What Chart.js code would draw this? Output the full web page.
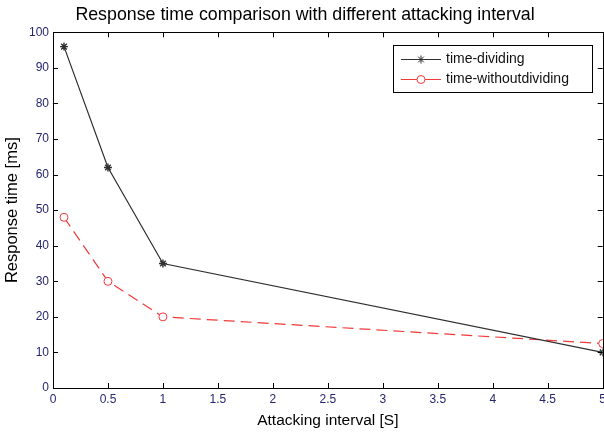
<!DOCTYPE html>
<html>
<head>
<meta charset="utf-8">
<script src="https://cdn.jsdelivr.net/npm/chart.js@4.4.0/dist/chart.umd.min.js"></script>
<style>
  html, body { margin: 0; padding: 0; background: #fff; overflow: hidden; }
  #wrap { width: 604px; height: 435px; overflow: hidden; }
</style>
</head>
<body>
<div id="wrap"><canvas id="chart" width="610" height="435"></canvas></div>
<script>
// values
const intervals = [0.1, 0.5, 1, 5];
const timeDividing = [96, 62, 35, 10];
const timeWithoutDividing = [48, 30, 20, 12.5];
const xTicks = [0, 0.5, 1, 1.5, 2, 2.5, 3, 3.5, 4, 4.5, 5];
const yTicks = [0, 10, 20, 30, 40, 50, 60, 70, 80, 90, 100];

const FONT = "'Liberation Sans', Arial, sans-serif";
const tickColor = "#262670";

function toPoints(xs, ys) {
  return xs.map((x, i) => ({ x: x, y: ys[i] }));
}

// matlab-like box: border on all sides, ticks pointing inward, legend inside
const matlabAxes = {
  id: "matlabAxes",
  afterDraw(chart) {
    const ctx = chart.ctx;
    const area = chart.chartArea;
    const xs = chart.scales.x;
    const ys = chart.scales.y;
    const len = 5;
    ctx.save();
    ctx.strokeStyle = "#000";
    ctx.lineWidth = 1;
    ctx.setLineDash([]);
    ctx.beginPath();
    for (const v of xTicks) {
      const px = Math.round(xs.getPixelForValue(v)) + 0.5;
      ctx.moveTo(px, area.bottom);
      ctx.lineTo(px, area.bottom - len);
      ctx.moveTo(px, area.top);
      ctx.lineTo(px, area.top + len);
    }
    for (const v of yTicks) {
      const py = Math.round(ys.getPixelForValue(v)) + 0.5;
      ctx.moveTo(area.left, py);
      ctx.lineTo(area.left + len, py);
      ctx.moveTo(area.right, py);
      ctx.lineTo(area.right - len, py);
    }
    ctx.stroke();
    ctx.strokeRect(Math.round(area.left) + 0.5, Math.round(area.top) + 0.5,
      Math.round(area.right - area.left), Math.round(area.bottom - area.top));

    // legend
    const bw = 199, bh = 47;
    const bx = Math.round(area.right) - 11 - bw;
    const by = Math.round(area.top) + 13;
    ctx.fillStyle = "#fff";
    ctx.fillRect(bx, by, bw, bh);
    ctx.strokeRect(bx + 0.5, by + 0.5, bw, bh);
    ctx.font = "14px " + FONT;
    ctx.textBaseline = "middle";
    chart.data.datasets.forEach((ds, i) => {
      const cy = by + 14 + i * 20 + 0.5;
      ctx.strokeStyle = ds.borderColor;
      ctx.lineWidth = 1;
      ctx.beginPath();
      ctx.moveTo(bx + 8, cy);
      ctx.lineTo(bx + 48, cy);
      ctx.stroke();
      ctx.fillStyle = ds.backgroundColor;
      Chart.helpers.drawPoint(ctx, {
        pointStyle: ds.pointStyle,
        radius: ds.pointRadius,
        borderWidth: 1,
        rotation: 0
      }, bx + 28, cy);
      ctx.fillStyle = "#111";
      ctx.fillText(ds.label, bx + 53, cy);
    });
    ctx.restore();
  }
};

new Chart(document.getElementById("chart"), {
  type: "line",
  data: {
    datasets: [
      {
        label: "time-dividing",
        data: toPoints(intervals, timeDividing),
        borderColor: "#303030",
        backgroundColor: "#303030",
        borderWidth: 1.2,
        pointStyle: "star",
        pointRadius: 4,
        pointBorderWidth: 1.4,
        tension: 0
      },
      {
        label: "time-withoutdividing",
        data: toPoints(intervals, timeWithoutDividing),
        borderColor: "#f03a3a",
        backgroundColor: "#ffffff",
        borderWidth: 1.2,
        borderDash: [11, 6],
        pointStyle: "circle",
        pointRadius: 4,
        pointBorderWidth: 1,
        tension: 0
      }
    ]
  },
  options: {
    responsive: false,
    animation: false,
    layout: { padding: { left: 0, right: 0, top: 0, bottom: 0 } },
    plugins: {
      legend: { display: false },
      tooltip: { enabled: false },
      title: {
        display: true,
        text: "Response time comparison with different attacking interval",
        color: "#000",
        font: { family: FONT, size: 17.8, weight: "normal" },
        padding: { top: 4, bottom: 7 }
      }
    },
    scales: {
      x: {
        type: "linear",
        min: 0,
        max: 5,
        afterBuildTicks: s => { s.ticks = xTicks.map(v => ({ value: v })); },
        afterFit: s => { s.height = 47; },
        grid: { display: false, drawTicks: false },
        border: { display: true, color: "#000" },
        ticks: {
          color: tickColor,
          font: { family: FONT, size: 12 },
          padding: 4,
          maxRotation: 0,
          autoSkip: false,
          callback: v => String(v)
        },
        title: {
          display: true,
          text: "Attacking interval [S]",
          color: "#000",
          font: { family: FONT, size: 15.5 },
          padding: { top: 0, bottom: 5 }
        }
      },
      y: {
        min: 0,
        max: 100,
        afterBuildTicks: s => { s.ticks = yTicks.map(v => ({ value: v })); },
        afterFit: s => { s.width = 53; },
        grid: { display: false, drawTicks: false },
        border: { display: true, color: "#000" },
        ticks: {
          color: tickColor,
          font: { family: FONT, size: 12 },
          padding: 4,
          callback: v => String(v)
        },
        title: {
          display: true,
          text: "Response time [ms]",
          color: "#000",
          font: { family: FONT, size: 16.5 },
          padding: { top: 3, bottom: 0 }
        }
      }
    }
  },
  plugins: [matlabAxes]
});
</script>
</body>
</html>
